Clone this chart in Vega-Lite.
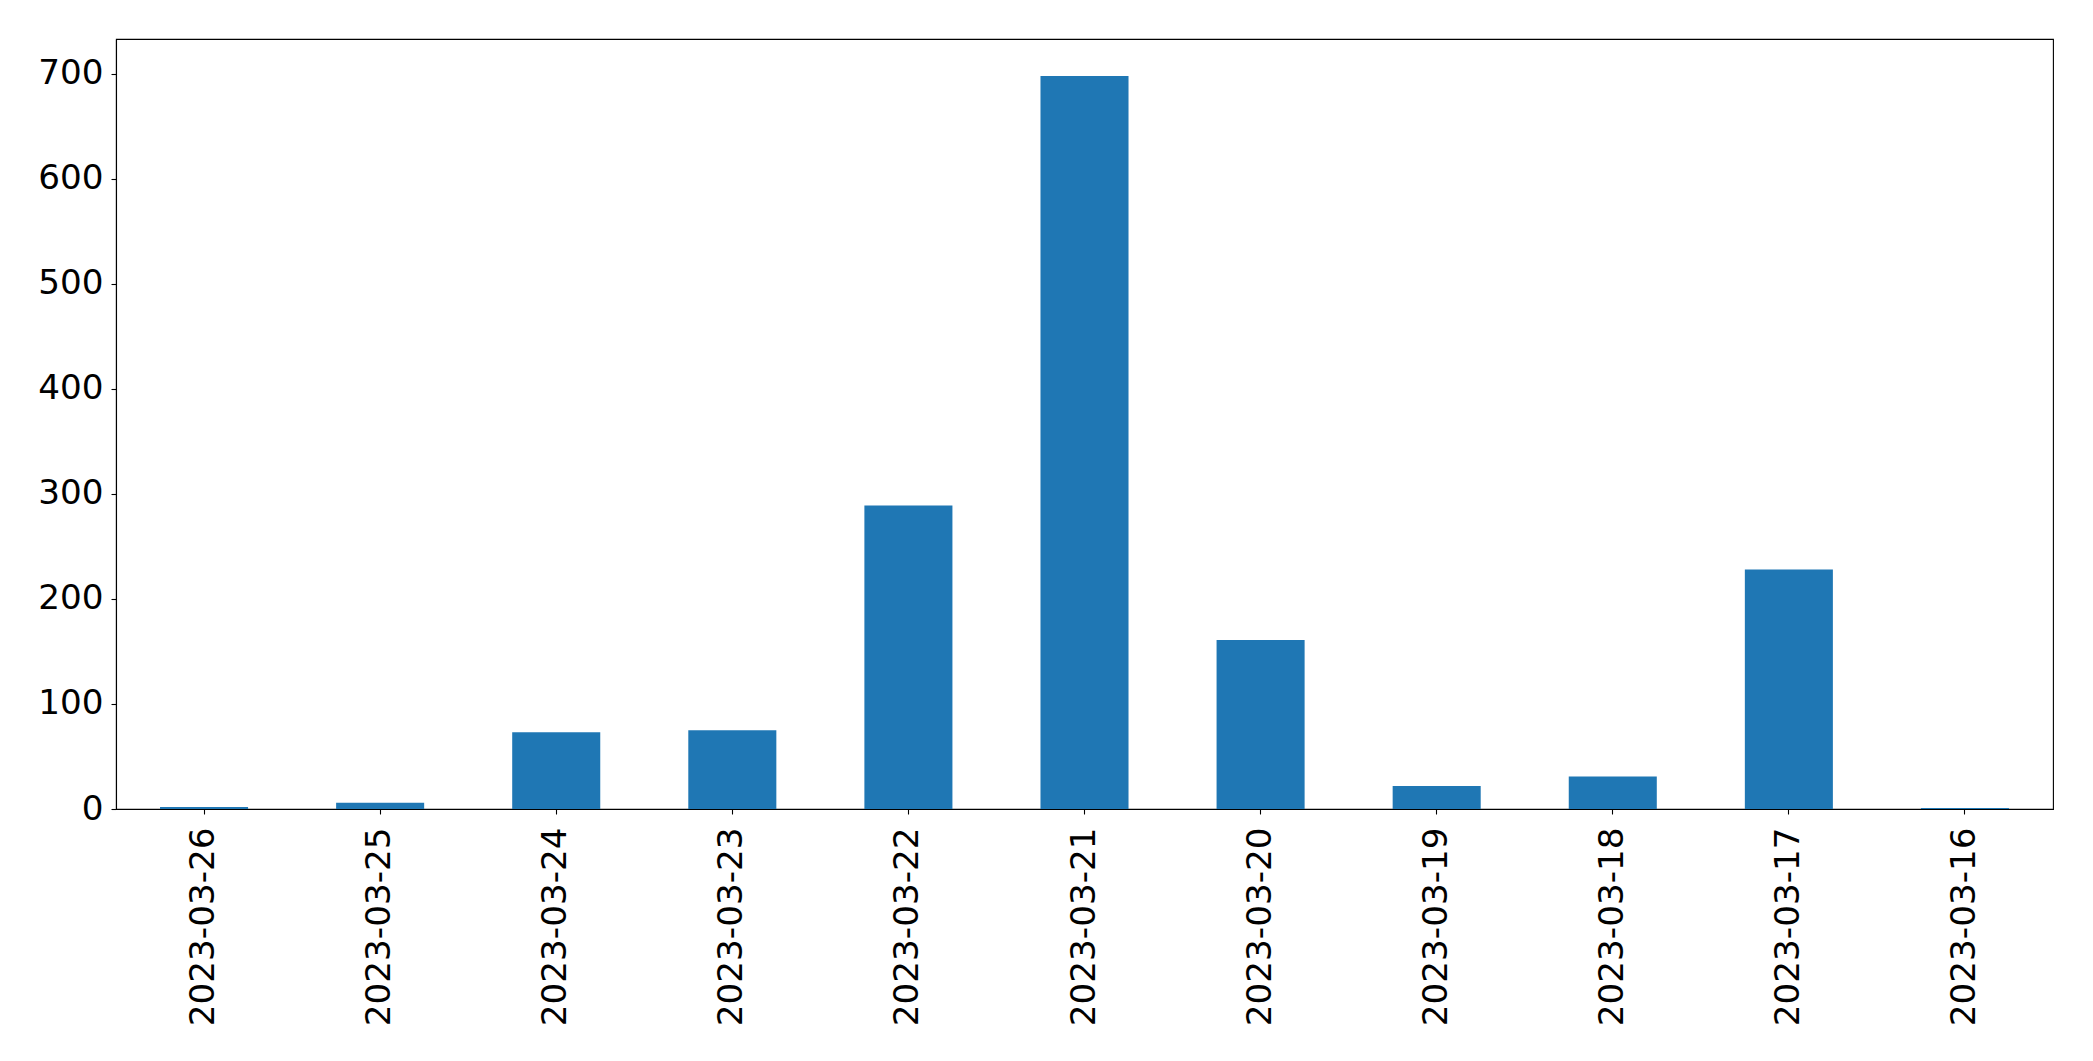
{
  "$schema": "https://vega.github.io/schema/vega-lite/v6.json",
  "width": 1937,
  "height": 770,
  "autosize": {"type": "none"},
  "padding": {"left": 116, "top": 39, "right": 40, "bottom": 252},
  "background": "white",
  "config": {
    "view": {"stroke": "black", "strokeWidth": 1.1},
    "font": "DejaVu Sans"
  },
  "data": {
    "values": [
      {"date": "2023-03-26", "count": 2},
      {"date": "2023-03-25", "count": 6},
      {"date": "2023-03-24", "count": 73},
      {"date": "2023-03-23", "count": 75},
      {"date": "2023-03-22", "count": 289},
      {"date": "2023-03-21", "count": 698},
      {"date": "2023-03-20", "count": 161},
      {"date": "2023-03-19", "count": 22},
      {"date": "2023-03-18", "count": 31},
      {"date": "2023-03-17", "count": 228},
      {"date": "2023-03-16", "count": 1}
    ]
  },
  "mark": {"type": "bar", "color": "#1f77b4"},
  "encoding": {
    "x": {
      "field": "date",
      "type": "nominal",
      "sort": null,
      "scale": {"paddingInner": 0.5, "paddingOuter": 0.25},
      "axis": {
        "title": null,
        "labelAngle": -90,
        "labelFontSize": 34.2,
        "labelColor": "black",
        "labelFont": "DejaVu Sans",
        "labelLimit": 0,
        "labelOverlap": false,
        "tickSize": 5,
        "tickColor": "black",
        "tickWidth": 1.1,
        "labelPadding": 13,
        "domainColor": "black",
        "domainWidth": 1.1,
        "grid": false
      }
    },
    "y": {
      "field": "count",
      "type": "quantitative",
      "scale": {"domain": [0, 733.3], "nice": false, "zero": true},
      "axis": {
        "title": null,
        "values": [0, 100, 200, 300, 400, 500, 600, 700],
        "labelFontSize": 34.2,
        "labelColor": "black",
        "labelFont": "DejaVu Sans",
        "tickSize": 5,
        "tickColor": "black",
        "tickWidth": 1.1,
        "labelPadding": 8,
        "domainColor": "black",
        "domainWidth": 1.1,
        "grid": false
      }
    }
  }
}
